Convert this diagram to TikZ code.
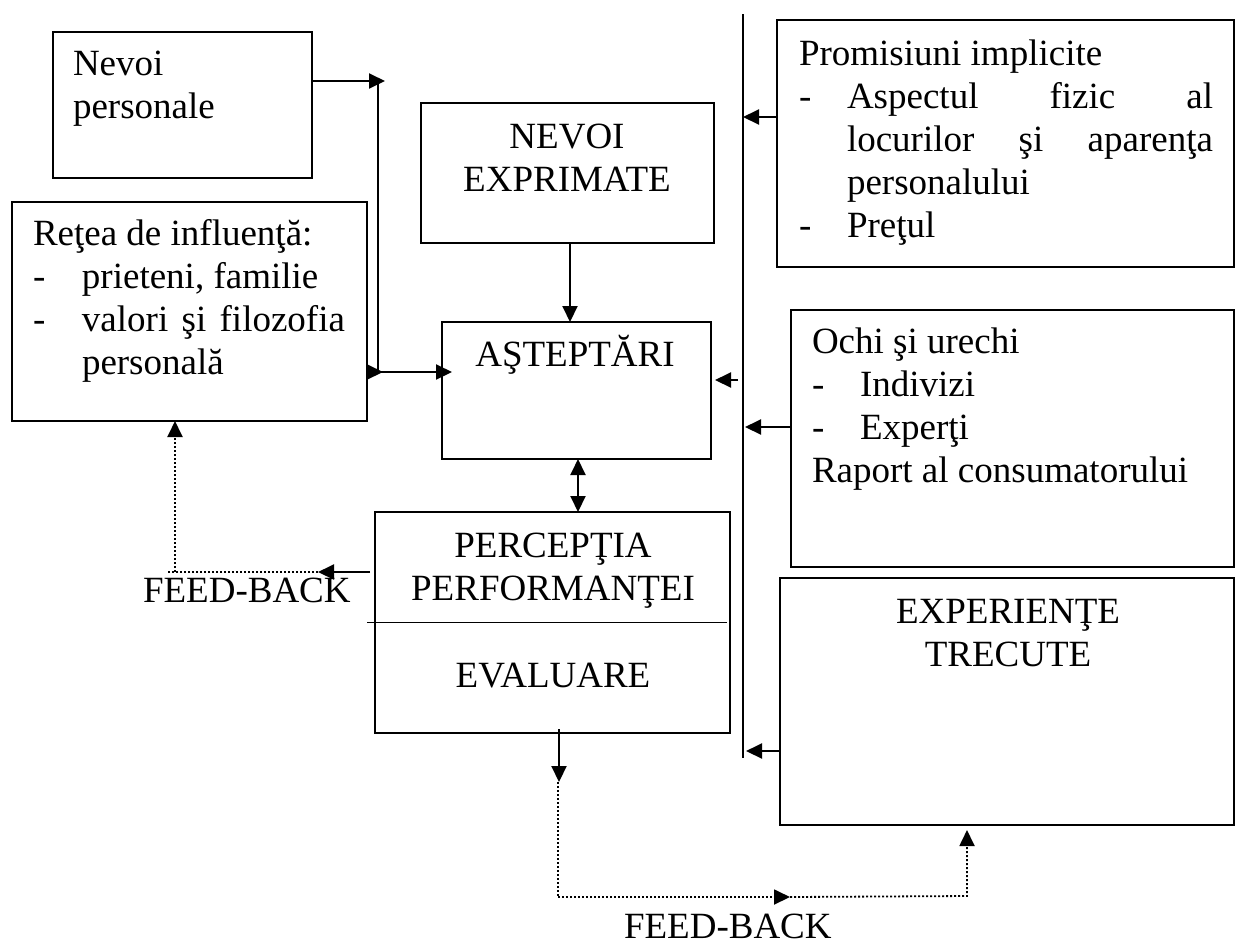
\documentclass[tikz,border=0pt]{standalone}
\usepackage{fontspec}
\setmainfont{Liberation Serif}
\usetikzlibrary{arrows.meta}
\begin{document}
\begin{tikzpicture}[x=1pt,y=-1pt,
  box/.style={draw, line width=2pt, inner sep=0pt, outer sep=0pt},
  txt/.style={inner sep=0pt, outer sep=0pt, anchor=base west, font=\fontsize{37}{43}\selectfont},
  ctxt/.style={txt, anchor=base},
  tip/.tip={Triangle[length=16pt,width=15pt]},
  arr/.style={line width=2pt, -tip},
  dbl/.style={line width=2pt, tip-tip},
  dot/.style={line width=2pt, dash pattern=on 2pt off 2pt},
  dotarr/.style={dot, -tip},
]
\useasboundingbox (0,0) rectangle (1238,946);

% ---------- boxes ----------
\node[box, minimum width=259pt, minimum height=146pt] (nevoi)    at (182.5,105)   {};
\node[box, minimum width=355pt, minimum height=219pt] (retea)    at (189.5,311.5) {};
\node[box, minimum width=293pt, minimum height=140pt] (nevoiexp) at (567.5,173)   {};
\node[box, minimum width=269pt, minimum height=137pt] (astept)   at (576.5,390.5) {};
\node[box, minimum width=355pt, minimum height=221pt] (percep)   at (552.5,622.5) {};
\node[box, minimum width=457pt, minimum height=247pt] (promis)   at (1005.5,143.5){};
\node[box, minimum width=443pt, minimum height=257pt] (ochi)     at (1012.5,438.5){};
\node[box, minimum width=454pt, minimum height=247pt] (exper)    at (1007,701.5)  {};

% divider inside the perception / evaluation box
\draw[line width=1.5pt] ([xshift=-8pt]percep.west) -- ([xshift=-3pt]percep.east);

% ---------- texts ----------
\node[txt] (tnevoi) at (73,75) {\parbox[t]{230pt}{Nevoi\\personale}};
\node[txt] (tretea) at (33,245) {\parbox[t]{330pt}{Reţea de influenţă:\\
  \makebox[49pt][l]{-}prieteni, familie\\
  \makebox[49pt][l]{-}\makebox[263pt][s]{valori şi filozofia}\\
  \hspace*{49pt}personală}};
\node[ctxt] (tnevoiexp) at (567,148) {\parbox[t]{290pt}{\centering NEVOI\\EXPRIMATE}};
\node[ctxt] (tastept) at (575,366) {AŞTEPTĂRI};
\node[ctxt] (tpercep) at (553,557) {\parbox[t]{340pt}{\centering PERCEPŢIA\\PERFORMANŢEI}};
\node[ctxt] (teval) at (553,687) {EVALUARE};
\node[txt] (tpromis) at (799,65) {\parbox[t]{430pt}{Promisiuni implicite\\
  \makebox[48pt][l]{-}\makebox[366pt][s]{Aspectul fizic al}\\
  \hspace*{48pt}\makebox[366pt][s]{locurilor şi aparenţa}\\
  \hspace*{48pt}personalului\\
  \makebox[48pt][l]{-}Preţul}};
\node[txt] (tochi) at (812,353) {\parbox[t]{420pt}{Ochi şi urechi\\
  \makebox[48pt][l]{-}Indivizi\\
  \makebox[48pt][l]{-}Experţi\\
  Raport al consumatorului}};
\node[ctxt] (texper) at (1008,623) {\parbox[t]{420pt}{\centering EXPERIENŢE\\TRECUTE}};
\node[txt] (fbleft) at (143,602) {FEED-BACK};
\node[txt] (fbbottom) at (624,938) {FEED-BACK};

% ---------- junction points ----------
\coordinate (bartop) at (743,14);
\coordinate (barbot) at (743,758);
\coordinate (jtop) at (378,81);
\coordinate (jtip) at (385,81);
\coordinate (jbot) at (378,372);
\coordinate (rtip) at (383,372);
\coordinate (sa) at (738,380);
\coordinate (fbL) at (318,572);
\coordinate (fbC) at (175,572);
\coordinate (fbCend) at (168,572);
\coordinate (fbB) at (559,782);
\coordinate (fbBd) at (558,782);
\coordinate (fbD) at (558,897);
\coordinate (fbM) at (790,897);
\coordinate (fbE) at (967,896);

% vertical collector bar on the right
\draw[line width=2pt] (bartop) -- (barbot);

% left branch: personal needs and influence network
\draw[arr] ([yshift=24pt]nevoi.east) -- (jtip);
\draw[line width=2pt] (jtop) -- (jbot);
\draw[arr] ([yshift=-60.5pt]retea.east) -- (rtip);
\draw[arr, shorten >=-10pt] (jbot) -- ([yshift=18.5pt]astept.west);

% central column
\draw[arr] ([xshift=2.5pt]nevoiexp.south) -- ([xshift=-6.5pt]astept.north);
\draw[dbl] ([xshift=1.5pt]astept.south) -- ([xshift=25.5pt]percep.north);
\draw[arr] (sa) -- ([xshift=4pt,yshift=10.5pt]astept.east);

% right-hand sources into the bar
\coordinate (pA) at ([yshift=26.5pt]promis.west);
\draw[arr] (pA) -- (pA -| bartop);
\coordinate (oA) at ([yshift=11.5pt]ochi.west);
\draw[arr] (oA) -- ([xshift=2pt]oA -| bartop);
\coordinate (eA) at ([yshift=-49.5pt]exper.west);
\draw[arr] (eA) -- ([xshift=3pt]eA -| bartop);

% feedback to the influence network
\draw[arr] ([xshift=-5pt,yshift=50.5pt]percep.west) -- (fbL);
\draw[dot] (fbL) -- (fbCend);
\draw[dotarr] (fbC) -- (fbC |- retea.south);

% feedback to past experiences
\draw[arr] ([xshift=6.5pt,yshift=4pt]percep.south) -- (fbB);
\draw[dot, line width=1.8pt] (fbBd) -- (fbD);
\draw[dotarr, line width=1.8pt] (fbD) -- (fbM);
\draw[dotarr, line width=1.8pt] (fbM) -- (fbE) -- ([yshift=-5pt]fbE |- exper.south);
\end{tikzpicture}
\end{document}
